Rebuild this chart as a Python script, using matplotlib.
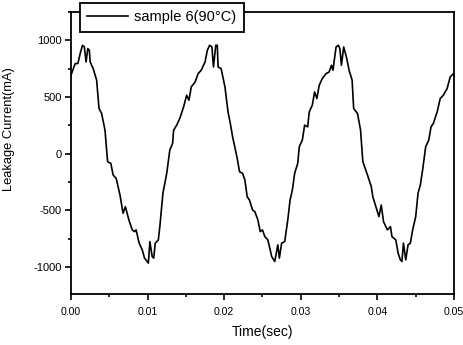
import matplotlib
matplotlib.use("Agg")
import matplotlib.pyplot as plt
from matplotlib.ticker import MultipleLocator

plt.rcParams['font.family'] = ['Liberation Sans', 'DejaVu Sans']

time_s = [0.0000, 0.00055, 0.0009, 0.0012, 0.0015, 0.00175, 0.00197, 0.0022, 0.0024, 0.0025,
          0.0029, 0.00335, 0.00366, 0.0040, 0.00444, 0.00478, 0.0052, 0.0055, 0.0059, 0.0064,
          0.0068, 0.0071, 0.00756, 0.0080, 0.0083, 0.0085, 0.0089, 0.0093, 0.0096, 0.0101,
          0.0103, 0.0106, 0.0108, 0.0110, 0.0114, 0.0116, 0.0120, 0.0125, 0.0129, 0.01327,
          0.0134, 0.0138, 0.0142, 0.0147, 0.0151, 0.0154, 0.0157, 0.0162, 0.0166, 0.0170,
          0.0175, 0.0178, 0.0181, 0.0184, 0.0186, 0.0189, 0.0191, 0.0192, 0.0196, 0.0201,
          0.0205, 0.0208, 0.0211, 0.0217, 0.0220, 0.0224, 0.0227, 0.0230, 0.0233, 0.0237,
          0.0240, 0.0244, 0.0247, 0.0250, 0.0253, 0.0257, 0.0259, 0.0262, 0.0266, 0.0268,
          0.0270, 0.0272, 0.0275, 0.0279, 0.0283, 0.0286, 0.0289, 0.0292, 0.0296, 0.0298,
          0.0302, 0.0305, 0.0309, 0.0311, 0.0315, 0.0318, 0.0321, 0.0324, 0.0328, 0.0333,
          0.0337, 0.0340, 0.0342, 0.0346, 0.0349, 0.0351, 0.0353, 0.0356, 0.0360, 0.0363,
          0.0367, 0.0369, 0.0374, 0.0378, 0.0381, 0.0387, 0.0392, 0.0394, 0.0398, 0.0402,
          0.0405, 0.0408, 0.0413, 0.0417, 0.0419, 0.0424, 0.0427, 0.0430, 0.0432, 0.0434,
          0.0437, 0.0440, 0.0443, 0.0446, 0.0450, 0.0453, 0.0456, 0.0459, 0.0463, 0.0467,
          0.0470, 0.0473, 0.0478, 0.0482, 0.0486, 0.0491, 0.0495, 0.0500]
current_ma = [692, 795, 795, 883, 956, 941, 809, 927, 912, 809,
              750, 648, 398, 354, 207, -72, -86, -189, -219, -366,
              -527, -469, -586, -674, -689, -674, -791, -850, -923, -967,
              -777, -909, -923, -791, -762, -645, -351, -174, 31, 90,
              207, 251, 310, 412, 515, 471, 588, 632, 706, 736,
              809, 912, 956, 941, 765, 956, 956, 765, 750, 588,
              368, 266, 148, -42, -160, -174, -233, -381, -410, -498,
              -513, -586, -689, -674, -733, -762, -821, -909, -953, -879,
              -806, -923, -791, -777, -586, -410, -322, -174, -86, 60,
              119, 251, 236, 368, 427, 544, 486, 603, 662, 706,
              721, 780, 736, 941, 956, 927, 780, 941, 839, 736,
              648, 398, 354, 207, -72, -189, -292, -381, -469, -557,
              -454, -601, -674, -645, -733, -762, -879, -938, -953, -791,
              -938, -806, -791, -674, -557, -351, -278, -145, 60, 119,
              236, 266, 368, 486, 515, 574, 677, 710]

x_ticks = [0.00, 0.01, 0.02, 0.03, 0.04, 0.05]
x_labels = ['0.00', '0.01', '0.02', '0.03', '0.04', '0.05']
y_ticks = [-1000, -500, 0, 500, 1000]
y_labels = ['-1000', '-500', '0', '500', '1000']

fig = plt.figure(figsize=(4.63, 3.45), dpi=100)
ax = fig.add_axes([0.1533, 0.1478, 0.8273, 0.8174])
ax.plot(time_s, current_ma, color='black', linewidth=1.2, label='sample 6(90°C)')
ax.set_xlim(0, 0.05)
ax.set_ylim(-1240, 1250)
ax.set_xticks(x_ticks)
ax.set_xticklabels(x_labels)
ax.set_yticks(y_ticks)
ax.set_yticklabels(y_labels)
ax.xaxis.set_minor_locator(MultipleLocator(0.005))
ax.yaxis.set_minor_locator(MultipleLocator(250))
ax.tick_params(which='both', direction='out', top=False, right=False, labelsize=8, width=1.2)
ax.tick_params(axis='x', which='major', labelsize=7.6)
ax.tick_params(which='major', length=4.5, pad=5)
ax.tick_params(axis='y', which='major', pad=2)
ax.tick_params(which='minor', length=2.5)
for s in ax.spines.values():
    s.set_linewidth(1.3)
ax.set_xlabel('Time(sec)', fontsize=10)
ax.xaxis.set_label_coords(0.5, -0.11)
ax.set_ylabel('Leakage Current(mA)', fontsize=9.3)
ax.yaxis.set_label_coords(-0.145, 0.585)
leg = ax.legend(loc='upper left', bbox_to_anchor=(0.024, 1.032), fontsize=10.5,
                frameon=True, fancybox=False, handlelength=2.8, handletextpad=0.4,
                borderpad=0.5, borderaxespad=0.0, framealpha=1.0)
leg.get_frame().set_edgecolor('black')
leg.get_frame().set_linewidth(1.3)
fig.savefig('out.png', dpi=100)
